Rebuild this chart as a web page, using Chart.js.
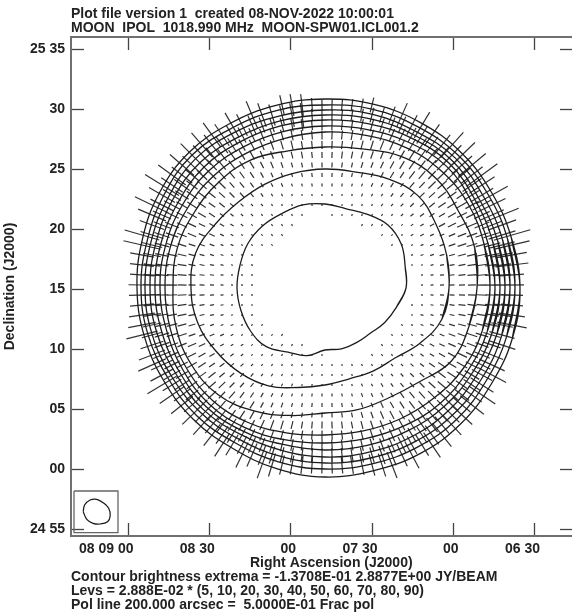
<!DOCTYPE html>
<html><head><meta charset="utf-8">
<script src="https://cdn.jsdelivr.net/npm/chart.js@4"></script>
<style>html,body{margin:0;padding:0;background:#fff;overflow:hidden;width:572px;height:613px}canvas{display:block;filter:blur(0.35px)}</style>
</head><body><canvas id="c" width="600" height="613"></canvas>
<script>
// offsets from the disc centre, in units of 5 arcsec; x grows westward (to the right)
const raTickValues=[-197,-115.8,-34.5,47,128,209.5];
const raTickLabels=["08 09 00","08 30","00","07 30","00","06 30"];
const decTickValues=[-241.5,-181.5,-121.5,-61.5,-1.5,58.5,118.5,178.5,238.5];
const decTickLabels=["24 55","00","05","10","15","20","25","30","25 35"];
const headerLines=["Plot file version 1  created 08-NOV-2022 10:00:01","MOON  IPOL  1018.990 MHz  MOON-SPW01.ICL001.2"];
const footerLines=["Contour brightness extrema = -1.3708E-01 2.8877E+00 JY/BEAM","Levs = 2.888E-02 * (5, 10, 20, 30, 40, 50, 60, 70, 80, 90)","Pol line 200.000 arcsec =  5.0000E-01 Frac pol"];
const raTitle="Right Ascension (J2000)";
const decTitle="Declination (J2000)";
const contourAngles=[0,15,30,45,60,75,90,105,120,135,150,165,180,195,210,225,240,255,270,285,300,315,330,345];
const contour05=[195,193,192,192,191,190,189,189,190,192,191,189,188,187,186,186,185,187,189,189,191,192,192,194];
const contour10=[190,189,188,188,186,185,183,184,185,188,186,184,184,183,181,181,179,180,181,182,184,186,186,188];
const contour20=[185,184,183,184,181,180,178,178,180,183,181,180,180,179,177,176,174,174,175,176,178,180,181,183];
const contour30=[180,179,178,180,177,175,173,173,174,177,176,175,175,174,172,172,169,168,169,170,172,174,175,178];
const contour40=[175,174,174,176,173,170,168,168,169,171,170,170,170,169,168,168,165,162,162,163,165,168,170,173];
const contour50=[170,169,170,172,168,164,162,162,163,165,165,165,165,164,164,164,161,157,155,156,159,163,165,168];
const contour60=[165,165,166,165,162,158,156,155,156,158,159,160,160,160,160,159,155,150,147,148,151,155,160,163];
const contour70=[152,155,154,156,152,144,141,142,148,150,151,153,152,154,154,151,142,132,125,126,127,133,146,149];
const contour80=[124,126,128,131,126,120,119,119,120,122,127,134,134,132,126,120,113,103,97,94,96,99,110,121];
const contour90=[81,83,88,89,85,82,84,86,86,88,89,88,88,87,86,83,74,70,62,63,63,64,69,74];
const beamBoxX=[-251,-207,-207,-251,-251];
const beamBoxY=[-203,-203,-244.7,-244.7,-203];
const beamX=[-241.8,-240.4,-234.9,-228.3,-221,-216.3,-214.8,-217.4,-224.7,-232,-238.2,-241.8];
const beamY=[-223.7,-217,-212,-211.3,-215.3,-220.3,-227.7,-233.7,-236,-235.3,-231.3,-223.7];
// polarisation vectors: one row per declination, RA cells 10 units apart from polRowStart; 0 = no vector
const polRowDec=[183,173,163,153,143,133,123,113,103,93,83,73,63,53,43,33,23,13,3,-7,-17,-27,-37,-47,-57,-67,-77,-87,-97,-107,-117,-127,-137,-147,-157,-167,-177];
const polRowStart=[-43,-73,-93,-113,-123,-133,-143,-153,-163,-163,-173,-173,-173,-183,-183,-183,-183,-183,-183,-183,-183,-183,-183,-183,-173,-173,-173,-163,-163,-153,-143,-133,-123,-113,-103,-83,-63];
const polLen=[
[20,22,22,14,12,12,12,12,13,15],
[30,25,22,20,24,24,12,11,11,11,12,13,15,16,18,26],
[28,24,20,16,15,14,13,12,10,10,10,10,11,12,13,14,16,18,22,30],
[30,26,22,17,15,13,12,11,11,10,9,9,9,9,10,10,11,12,13,14,16,20,26],
[32,26,20,16,13,12,11,10,9,9,8,8,8,8,8,8,9,9,10,11,12,14,16,20,26,34],
[32,26,19,15,12,11,10,9,8,7,7,7,6,6,6,7,7,7,8,8,9,10,11,13,16,21,27,36],
[32,26,18,14,12,11,9,8,7,7,6,5,5,5,5,5,5,5,6,6,7,8,9,10,11,13,15,21,27,36],
[34,26,18,14,12,11,9,8,7,6,5,5,4,4,4,4,4,4,4,5,5,6,7,7,9,10,11,13,16,21,27,38],
[40,26,19,14,12,11,10,7,7,6,5,4,4,3,3,3,3,3,3,3,3,4,4,5,5,7,8,10,12,13,17,23,30],
[30,21,16,13,11,9,8,7,6,5,4,3,3,2,2,2,2,2,2,2,3,3,3,4,5,5,7,8,10,11,13,18,26,36],
[38,26,18,13,11,9,8,7,5,4,3,3,2,2,2,2,2,2,2,2,2,2,2,3,3,4,5,5,7,9,11,12,15,21,30],
[30,20,15,12,11,9,7,5,4,3,3,2,2,2,2,2,0,0,2,2,2,2,2,2,2,3,4,5,6,7,9,11,13,17,26,36],
[26,18,15,11,9,7,6,5,4,3,2,2,2,2,2,0,0,0,0,0,0,2,2,2,2,2,3,4,5,7,9,11,13,16,21,30],
[36,24,16,13,10,9,7,6,4,3,2,2,2,2,2,0,0,0,0,0,0,0,0,0,2,2,2,3,4,4,5,7,9,11,14,18,28,38],
[38,21,15,11,9,7,6,5,3,3,2,2,2,2,0,0,0,0,0,0,0,0,0,0,0,2,2,2,3,4,5,7,9,11,13,17,26,36],
[24,18,14,11,9,7,5,4,3,2,2,2,0,0,0,0,0,0,0,0,0,0,0,0,0,0,0,2,3,4,5,6,8,10,12,15,22,30],
[24,17,13,10,9,7,5,4,3,2,2,2,0,0,0,0,0,0,0,0,0,0,0,0,0,0,0,2,2,3,4,5,7,9,11,14,18,33],
[24,17,13,10,9,7,5,4,3,2,2,2,0,0,0,0,0,0,0,0,0,0,0,0,0,0,0,0,2,3,4,5,7,9,11,14,18,24],
[27,18,13,10,9,7,5,4,3,2,2,2,0,0,0,0,0,0,0,0,0,0,0,0,0,0,0,0,2,3,4,5,6,8,10,13,16,24],
[26,18,13,10,9,7,5,4,3,2,2,2,0,0,0,0,0,0,0,0,0,0,0,0,0,0,0,0,2,3,4,5,6,8,10,13,16,22],
[24,17,13,10,9,7,5,4,3,2,2,2,0,0,0,0,0,0,0,0,0,0,0,0,0,0,0,2,2,3,4,5,7,9,11,14,18,22],
[26,18,13,10,9,7,5,4,3,2,2,2,0,0,0,0,0,0,0,0,0,0,0,0,0,0,0,2,3,3,4,5,7,9,11,14,20,26],
[28,19,14,11,9,7,5,4,3,3,2,2,2,0,0,0,0,0,0,0,0,0,0,0,0,0,2,2,3,4,5,6,8,10,12,16,22,30],
[32,21,15,11,10,7,6,5,4,3,2,2,2,2,2,0,0,0,0,0,0,0,0,0,0,2,2,2,3,4,5,7,9,11,13,18,26],
[24,16,13,10,9,7,5,4,3,3,2,2,2,2,2,2,0,0,0,0,0,0,0,2,2,2,3,4,5,6,8,9,11,14,18,28],
[28,19,14,11,9,8,6,5,4,3,2,2,2,2,2,2,2,2,0,0,0,0,2,2,2,3,3,4,5,7,9,11,13,17,24],
[30,24,17,13,11,9,7,6,5,4,3,2,2,2,2,2,2,2,2,2,2,2,2,2,3,3,4,5,7,9,10,12,14,19,28],
[26,19,14,12,10,9,7,6,5,4,3,3,2,2,2,2,2,2,2,2,2,2,3,3,4,5,6,8,9,11,13,17,23,32],
[34,22,18,13,11,10,9,7,6,5,4,3,3,3,2,2,2,2,2,2,3,3,4,4,5,6,7,9,11,12,15,20,27],
[30,20,16,12,11,9,9,7,6,5,4,4,3,3,3,3,3,3,3,4,4,5,5,7,8,9,11,12,15,18,24,32],
[28,21,15,13,11,10,9,8,6,5,5,4,4,4,4,4,4,4,5,5,6,7,8,9,11,12,14,17,22,30],
[27,20,16,13,12,10,9,9,8,7,6,5,5,5,5,5,5,6,7,8,9,10,11,12,14,17,21,28],
[26,21,17,15,13,11,11,10,9,8,7,7,7,7,7,7,8,9,10,11,12,13,15,18,22,27],
[27,21,18,15,13,12,11,10,10,9,9,9,9,9,9,10,11,12,13,14,16,19,23,30],
[27,24,20,17,15,14,13,12,11,11,11,11,11,11,12,13,14,16,18,20,25,30],
[28,25,21,18,16,15,14,14,14,14,14,15,15,16,19,22,25,30],
[28,24,20,19,18,17,17,17,17,18,20,22,24,28]];
const polAng=[
[103,100,97,94,91,88,85,82,79,76],
[113,110,107,104,101,98,94,91,88,84,81,78,75,72,69,66],
[120,117,114,111,108,105,101,98,95,91,88,84,81,77,74,71,68,65,62,59],
[126,124,121,118,115,112,109,106,102,99,95,91,87,84,80,76,73,70,66,63,60,58,55],
[131,128,126,123,120,117,114,110,107,103,99,95,91,87,83,79,75,72,68,65,62,59,56,53,51,48],
[135,133,130,128,125,122,119,115,112,108,104,100,96,91,87,83,79,74,71,67,63,60,57,54,51,49,46,44],
[139,137,135,133,130,127,124,121,117,113,109,105,101,96,91,87,82,78,73,69,65,61,58,55,52,49,46,44,42,40],
[144,142,140,137,135,132,129,126,123,119,115,111,106,102,97,92,86,81,77,72,67,63,59,56,52,49,47,44,42,40,38,36],
[148,146,144,142,140,138,135,132,129,125,121,117,113,108,103,97,92,86,81,75,70,65,61,57,53,50,47,44,41,39,37,35,33],
[150,149,147,145,143,141,138,135,132,128,124,120,115,110,104,98,92,86,80,74,68,63,58,54,50,47,44,41,38,36,34,32,31,29],
[154,153,152,150,148,146,144,141,138,135,131,127,123,117,112,105,99,92,85,78,72,66,60,56,51,47,44,41,38,35,33,31,29,28,26],
[157,156,154,153,151,149,147,145,142,139,135,131,126,121,114,108,0,0,84,77,70,63,57,52,47,43,40,37,34,32,30,28,26,25,24,22],
[160,159,158,156,155,153,151,149,146,143,139,135,130,124,118,0,0,0,0,0,0,60,53,48,43,39,36,33,30,28,26,25,23,22,21,20],
[164,163,162,161,160,158,157,155,153,150,147,144,140,135,129,0,0,0,0,0,0,0,0,0,43,38,35,31,29,26,24,23,21,20,19,18,17,16],
[167,166,165,164,163,162,161,159,157,155,153,149,146,141,0,0,0,0,0,0,0,0,0,0,0,33,29,26,24,22,20,19,17,16,15,14,14,13],
[170,169,169,168,167,166,165,164,162,160,158,156,0,0,0,0,0,0,0,0,0,0,0,0,0,0,0,21,19,17,16,15,14,13,12,11,11,10],
[173,172,172,171,171,170,169,168,167,166,165,162,0,0,0,0,0,0,0,0,0,0,0,0,0,0,0,15,13,12,11,10,10,9,8,8,7,7],
[176,176,175,175,175,174,174,173,173,172,171,170,0,0,0,0,0,0,0,0,0,0,0,0,0,0,0,0,8,7,6,6,5,5,5,4,4,4],
[179,179,179,179,179,179,179,178,178,178,178,178,0,0,0,0,0,0,0,0,0,0,0,0,0,0,0,0,2,2,1,1,1,1,1,1,1,1],
[2,2,2,3,3,3,3,4,4,4,5,5,0,0,0,0,0,0,0,0,0,0,0,0,0,0,0,0,176,176,177,177,177,177,177,178,178,178],
[5,6,6,6,7,7,8,9,9,10,12,13,0,0,0,0,0,0,0,0,0,0,0,0,0,0,0,169,170,171,172,172,173,173,174,174,175,175],
[8,9,9,10,11,11,12,13,15,16,18,20,0,0,0,0,0,0,0,0,0,0,0,0,0,0,0,163,164,166,167,168,169,170,170,171,171,172],
[11,12,13,14,15,16,17,18,20,22,24,27,30,0,0,0,0,0,0,0,0,0,0,0,0,0,154,157,159,161,162,164,165,166,167,168,168,169],
[14,15,16,17,18,19,21,23,25,27,30,33,37,42,48,0,0,0,0,0,0,0,0,0,0,145,149,152,154,156,158,160,161,162,163,164,165],
[18,19,20,22,23,25,27,29,31,35,38,42,47,53,60,68,0,0,0,0,0,0,0,135,139,143,147,150,152,154,156,157,159,160,161,162],
[21,22,24,25,27,29,31,33,36,39,43,47,52,57,64,71,79,87,0,0,0,0,125,130,135,139,142,145,148,150,152,154,156,157,158],
[24,25,27,28,30,32,34,37,40,43,47,51,55,61,67,73,80,88,95,102,109,116,122,127,131,135,138,142,144,147,149,151,152,154,155],
[28,30,31,33,35,38,40,43,46,50,54,59,64,69,75,82,88,95,101,107,113,118,123,128,132,135,138,141,143,146,148,149,151,152],
[31,32,34,36,38,41,43,46,49,53,57,61,66,71,77,82,88,94,100,106,111,116,120,125,128,132,135,138,140,143,145,147,148],
[35,37,39,41,43,46,49,52,56,60,64,68,73,78,83,88,94,99,104,109,114,118,122,126,129,132,135,138,140,142,144,146],
[39,41,44,46,49,52,55,58,62,66,70,74,79,84,89,93,98,103,108,112,116,120,123,127,130,132,135,137,140,142],
[44,46,48,51,54,57,60,64,67,71,75,80,84,89,93,98,102,106,110,114,118,121,124,127,130,133,135,137],
[48,50,53,56,59,62,65,69,73,76,80,85,89,93,97,101,105,109,113,116,119,122,125,128,130,133],
[52,55,58,61,64,67,70,74,77,81,85,89,93,97,100,104,108,111,114,118,121,123,126,129],
[57,59,62,65,68,71,75,78,82,85,89,93,96,100,103,107,110,113,116,119,122,124],
[64,66,69,72,76,79,82,86,89,92,96,99,102,106,109,112,115,118],
[70,73,76,79,83,86,89,92,95,99,102,105,108,111]];

const allContours=[contour05,contour10,contour20,contour30,contour40,contour50,contour60,contour70,contour80,contour90];
const DEG=Math.PI/180;
function contourPoints(r){const p=r.map((v,i)=>({x:v*Math.cos(contourAngles[i]*DEG),y:v*Math.sin(contourAngles[i]*DEG)}));return [p[p.length-1],...p,p[0],p[1]];}
function polPoints(){const out=[];polLen.forEach((row,j)=>row.forEach((len,i)=>{if(!len)return;const x=polRowStart[j]+10*i,y=polRowDec[j],a=polAng[j][i]*DEG,hx=Math.cos(a)*len/2,hy=Math.sin(a)*len/2;
 out.push({x:x-hx,y:y-hy},{x:x+hx,y:y+hy},{x:NaN,y:NaN});}));return out;}
const line={type:'scatter',showLine:true,pointRadius:0,fill:false,borderJoinStyle:'round'};
const datasets=allContours.map(r=>({...line,data:contourPoints(r),borderColor:'#1c1c1c',borderWidth:1.3,tension:0.4}));
datasets.push({...line,data:polPoints(),borderColor:'#333',borderWidth:1.2,tension:0,spanGaps:false,borderCapStyle:'butt'});
datasets.push({...line,data:beamBoxX.map((x,i)=>({x,y:beamBoxY[i]})),borderColor:'#666',borderWidth:1.3,tension:0});
datasets.push({...line,data:beamX.map((x,i)=>({x,y:beamY[i]})),borderColor:'#1c1c1c',borderWidth:1.25,tension:0.4});
const FONT='"Liberation Sans"';
const FW='bold 14px '+FONT;
const textPlugin={id:'plotText',afterDraw(ch){const c=ch.ctx;c.save();c.fillStyle='#222';c.textAlign='left';c.textBaseline='middle';c.font=FW;
 headerLines.forEach((t,i)=>c.fillText(t,71,14+14*i));
 c.fillText(raTitle,250,563);
 footerLines.forEach((t,i)=>c.fillText(t,71,577+14.3*i));
 c.restore();}};
function edge(axisVals,labels,extra){return {type:'linear',min:extra.min,max:extra.max,position:extra.position,offset:false,
 afterBuildTicks(s){s.ticks=axisVals.map(v=>({value:v}));},
 afterFit:extra.afterFit,
 border:{display:true,color:'#707070',width:2},
 grid:{display:true,drawOnChartArea:false,drawTicks:true,tickLength:-13,tickColor:'#444',tickWidth:1.3},
 ticks:extra.ticks,title:extra.title||{display:false}};}
const xr={min:-254,max:248},yr={min:-248,max:251};
const tickFont={family:FONT,size:14,weight:'bold'};
new Chart(document.getElementById('c'),{type:'scatter',data:{datasets},plugins:[textPlugin],options:{responsive:false,animation:false,devicePixelRatio:1,
 layout:{padding:0},plugins:{legend:{display:false},tooltip:{enabled:false},title:{display:false}},
 scales:{
  x:edge(raTickValues,raTickLabels,{...xr,position:'bottom',afterFit(s){s.height=77;},
    ticks:{autoSkip:false,maxRotation:0,minRotation:0,align:'end',labelOffset:5.5,padding:18,color:'#222',font:tickFont,callback:(v,i)=>raTickLabels[i]}}),
  x2:edge(raTickValues,raTickLabels,{...xr,position:'top',afterFit(s){s.height=37;},ticks:{display:false}}),
  y:edge(decTickValues,decTickLabels,{...yr,position:'left',afterFit(s){s.width=71;},
    ticks:{autoSkip:false,padding:19,color:'#222',font:tickFont,callback:(v,i)=>decTickLabels[i]},
    title:{display:true,text:decTitle,color:'#222',font:tickFont,padding:{top:2,bottom:0}}}),
  y2:edge(decTickValues,decTickLabels,{...yr,position:'right',afterFit(s){s.width=27;},ticks:{display:false}})
 }}});
</script></body></html>
